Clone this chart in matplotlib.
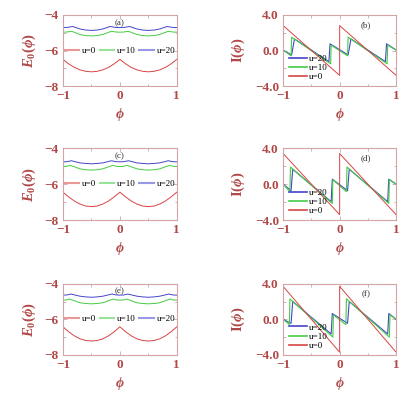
import numpy as np
import matplotlib
matplotlib.use('Agg')
import matplotlib.pyplot as plt
from matplotlib.ticker import MultipleLocator

plt.rcParams['font.family'] = 'Liberation Serif'
plt.rcParams['mathtext.fontset'] = 'custom'
plt.rcParams['mathtext.rm'] = 'Liberation Serif:bold'
plt.rcParams['mathtext.it'] = 'Liberation Serif:italic:bold'
plt.rcParams['mathtext.bf'] = 'Liberation Serif:bold'

# ---- ground state energy E0(phi), panels (a), (c), (e)
phi_red = [-1, -0.9, -0.8, -0.7, -0.6, -0.5, -0.4, -0.3, -0.2, -0.1, 0,
           0.1, 0.2, 0.3, 0.4, 0.5, 0.6, 0.7, 0.8, 0.9, 1]

E_a_u0 = [-6.50, -6.75, -6.95, -7.09, -7.17, -7.20, -7.17, -7.09, -6.95, -6.75, -6.50,
          -6.75, -6.95, -7.09, -7.17, -7.20, -7.17, -7.09, -6.95, -6.75, -6.50]
phi_a_u10 = [-1, -0.93, -0.85, -0.7, -0.6, -0.5, -0.4, -0.3, -0.15, -0.07, 0,
             0.07, 0.15, 0.3, 0.4, 0.5, 0.6, 0.7, 0.85, 0.93, 1]
E_a_u10 = [-4.97, -4.96, -4.92, -5.10, -5.16, -5.18, -5.16, -5.10, -4.92, -4.96, -4.97,
           -4.96, -4.92, -5.10, -5.16, -5.18, -5.16, -5.10, -4.92, -4.96, -4.97]
phi_a_u20 = [-1, -0.92, -0.83, -0.7, -0.6, -0.5, -0.4, -0.3, -0.17, -0.08, 0,
             0.08, 0.17, 0.3, 0.4, 0.5, 0.6, 0.7, 0.83, 0.92, 1]
E_a_u20 = [-4.71, -4.70, -4.65, -4.79, -4.85, -4.87, -4.85, -4.79, -4.65, -4.70, -4.71,
           -4.70, -4.65, -4.79, -4.85, -4.87, -4.85, -4.79, -4.65, -4.70, -4.71]

E_c_u0 = [-6.45, -6.71, -6.94, -7.11, -7.22, -7.25, -7.22, -7.11, -6.94, -6.71, -6.45,
          -6.71, -6.94, -7.11, -7.22, -7.25, -7.22, -7.11, -6.94, -6.71, -6.45]
phi_c_u10 = [-1, -0.94, -0.87, -0.7, -0.6, -0.5, -0.4, -0.3, -0.13, -0.06, 0,
             0.06, 0.13, 0.3, 0.4, 0.5, 0.6, 0.7, 0.87, 0.94, 1]
E_c_u10 = [-5.02, -5.01, -4.96, -5.15, -5.20, -5.22, -5.20, -5.15, -4.96, -5.01, -5.02,
           -5.01, -4.96, -5.15, -5.20, -5.22, -5.20, -5.15, -4.96, -5.01, -5.02]
phi_c_u20 = [-1, -0.93, -0.85, -0.7, -0.6, -0.5, -0.4, -0.3, -0.15, -0.07, 0,
             0.07, 0.15, 0.3, 0.4, 0.5, 0.6, 0.7, 0.85, 0.93, 1]
E_c_u20 = [-4.76, -4.75, -4.70, -4.82, -4.85, -4.87, -4.85, -4.82, -4.70, -4.75, -4.76,
           -4.75, -4.70, -4.82, -4.85, -4.87, -4.85, -4.82, -4.70, -4.75, -4.76]

E_e_u0 = [-6.42, -6.70, -6.93, -7.10, -7.19, -7.22, -7.19, -7.10, -6.93, -6.70, -6.42,
          -6.70, -6.93, -7.10, -7.19, -7.22, -7.19, -7.10, -6.93, -6.70, -6.42]
phi_e_u10 = [-1, -0.94, -0.88, -0.7, -0.6, -0.5, -0.4, -0.3, -0.12, -0.06, 0,
             0.06, 0.12, 0.3, 0.4, 0.5, 0.6, 0.7, 0.88, 0.94, 1]
E_e_u10 = [-4.92, -4.91, -4.86, -5.07, -5.11, -5.13, -5.11, -5.07, -4.86, -4.91, -4.92,
           -4.91, -4.86, -5.07, -5.11, -5.13, -5.11, -5.07, -4.86, -4.91, -4.92]
phi_e_u20 = [-1, -0.93, -0.86, -0.7, -0.6, -0.5, -0.4, -0.3, -0.14, -0.07, 0,
             0.07, 0.14, 0.3, 0.4, 0.5, 0.6, 0.7, 0.86, 0.93, 1]
E_e_u20 = [-4.64, -4.63, -4.58, -4.70, -4.74, -4.76, -4.74, -4.70, -4.58, -4.63, -4.64,
           -4.63, -4.58, -4.70, -4.74, -4.76, -4.74, -4.70, -4.58, -4.63, -4.64]

# ---- persistent current I(phi), panels (b), (d), (f)
phi_I_u0 = [-1, 0, 0, 1]
I_b_u0 = [2.8, -2.8, 2.8, -2.8]
I_d_u0 = [3.4, -3.4, 3.4, -3.4]
I_f_u0 = [3.7, -3.7, 3.7, -3.7]

phi_b_u10 = [-1, -0.86, -0.85, -0.16, -0.15, 0.14, 0.15, 0.84, 0.85, 1]
I_b_u10 = [0.05, -0.6, 1.5, -1.5, 0.6, -0.6, 1.5, -1.5, 0.6, 0.05]
phi_b_u20 = [-1, -0.85, -0.80, -0.19, -0.17, 0.15, 0.20, 0.81, 0.83, 1]
I_b_u20 = [0.05, -0.5, 1.3, -1.25, 0.75, -0.5, 1.3, -1.25, 0.75, 0.05]

phi_d_u10 = [-1, -0.88, -0.87, -0.13, -0.12, 0.12, 0.13, 0.87, 0.88, 1]
I_d_u10 = [0.0, -0.85, 1.9, -2.15, 0.5, -0.85, 1.9, -2.15, 0.5, 0.0]
phi_d_u20 = [-1, -0.86, -0.83, -0.15, -0.13, 0.14, 0.17, 0.85, 0.87, 1]
I_d_u20 = [0.0, -0.73, 1.65, -1.95, 0.55, -0.73, 1.65, -1.95, 0.55, 0.0]

phi_f_u10 = [-1, -0.89, -0.88, -0.12, -0.11, 0.11, 0.12, 0.88, 0.89, 1]
I_f_u10 = [0.0, -0.6, 2.3, -2.0, 0.5, -0.6, 2.3, -2.0, 0.5, 0.0]
phi_f_u20 = [-1, -0.86, -0.83, -0.15, -0.13, 0.14, 0.17, 0.85, 0.87, 1]
I_f_u20 = [0.0, -0.45, 2.0, -1.65, 0.65, -0.45, 2.0, -1.65, 0.65, 0.0]

panel_labels = ['(a)', '(b)', '(c)', '(d)', '(e)', '(f)']

red = '#d84444'
green = '#44cc44'
blue = '#4444cc'
spine_col = '#d4a4a4'
tick_col = '#b04848'

fig = plt.figure(figsize=(4.17, 3.93), dpi=100)

rows_bottom = [0.781, 0.440, 0.097]
rows_height = [0.181, 0.183, 0.181]

E_data = [
    (E_a_u0, phi_a_u10, E_a_u10, phi_a_u20, E_a_u20),
    (E_c_u0, phi_c_u10, E_c_u10, phi_c_u20, E_c_u20),
    (E_e_u0, phi_e_u10, E_e_u10, phi_e_u20, E_e_u20),
]
I_data = [
    (I_b_u0, phi_b_u10, I_b_u10, phi_b_u20, I_b_u20),
    (I_d_u0, phi_d_u10, I_d_u10, phi_d_u20, I_d_u20),
    (I_f_u0, phi_f_u10, I_f_u10, phi_f_u20, I_f_u20),
]


def style(ax):
    for s in ax.spines.values():
        s.set_color(spine_col)
        s.set_linewidth(0.8)
    ax.tick_params(which='both', direction='in', top=True, right=True,
                   color=spine_col, labelcolor=tick_col, width=0.6)
    ax.tick_params(which='major', length=3, labelsize=9.5, pad=3)
    ax.tick_params(which='minor', length=1.8)
    for lab in ax.get_xticklabels() + ax.get_yticklabels():
        lab.set_fontweight('bold')
    ax.set_xlim(-1, 1)
    ax.xaxis.set_minor_locator(MultipleLocator(0.5))
    ax.set_xlabel(r'$\phi$', color=tick_col, fontsize=10, labelpad=3)


for r in range(3):
    # left: energy
    axL = fig.add_axes([0.151, rows_bottom[r], 0.273, rows_height[r]])
    e0, p10, e10, p20, e20 = E_data[r]
    axL.plot(phi_red, e0, color=red, lw=0.7, label='u=0')
    axL.plot(p10, e10, color=green, lw=0.7, label='u=10')
    axL.plot(p20, e20, color=blue, lw=0.7, label='u=20')
    axL.set_ylim(-8, -4)
    axL.set_yticks([-8, -6, -4])
    axL.yaxis.set_minor_locator(MultipleLocator(1))
    axL.set_yticklabels(['\u22128', '\u22126', '\u22124'])
    axL.set_xticks([-1, 0, 1])
    axL.set_xticklabels(['\u22121', '0', '1'])
    style(axL)
    axL.set_ylabel(r'$E_0(\phi)$', color=tick_col, fontsize=10.5, labelpad=5)
    axL.text(0.5, 0.89, panel_labels[2 * r], transform=axL.transAxes,
             ha='center', va='center', fontsize=6.5, color='#333333')
    legL = axL.legend(loc='center', bbox_to_anchor=(0.5, 0.5), ncol=3, frameon=False,
                      fontsize=6.5, handlelength=1.6, handletextpad=0.3,
                      columnspacing=0.4, borderpad=0.1)
    for ln in legL.get_lines():
        ln.set_linewidth(1.5)
        ln.set_alpha(0.55)

    # right: current
    axR = fig.add_axes([0.679, rows_bottom[r], 0.271, rows_height[r]])
    i0, q10, i10, q20, i20 = I_data[r]
    axR.plot(q20, i20, color=blue, lw=0.8, label='u=20')
    axR.plot(q10, i10, color=green, lw=0.8, label='u=10')
    axR.plot(phi_I_u0, i0, color=red, lw=0.7, label='u=0')
    axR.set_ylim(-4, 4)
    axR.set_yticks([-4, 0, 4])
    axR.yaxis.set_minor_locator(MultipleLocator(2))
    axR.set_yticklabels(['\u22124.0', '0.0', '4.0'])
    axR.set_xticks([-1, 0, 1])
    axR.set_xticklabels(['\u22121', '0', '1'])
    style(axR)
    axR.set_ylabel(r'$\mathbf{I}(\phi)$', color=tick_col, fontsize=10.5, labelpad=6)
    axR.text(0.73, 0.86, panel_labels[2 * r + 1], transform=axR.transAxes,
             ha='center', va='center', fontsize=6.5, color='#333333')
    legR = axR.legend(loc='lower left', bbox_to_anchor=(0.0, -0.02), frameon=False,
                      fontsize=6.5, handlelength=1.9, handletextpad=0.3,
                      labelspacing=0.1, borderpad=0.2)
    for ln in legR.get_lines():
        ln.set_linewidth(1.2)

fig.savefig('out.png', dpi=100)
